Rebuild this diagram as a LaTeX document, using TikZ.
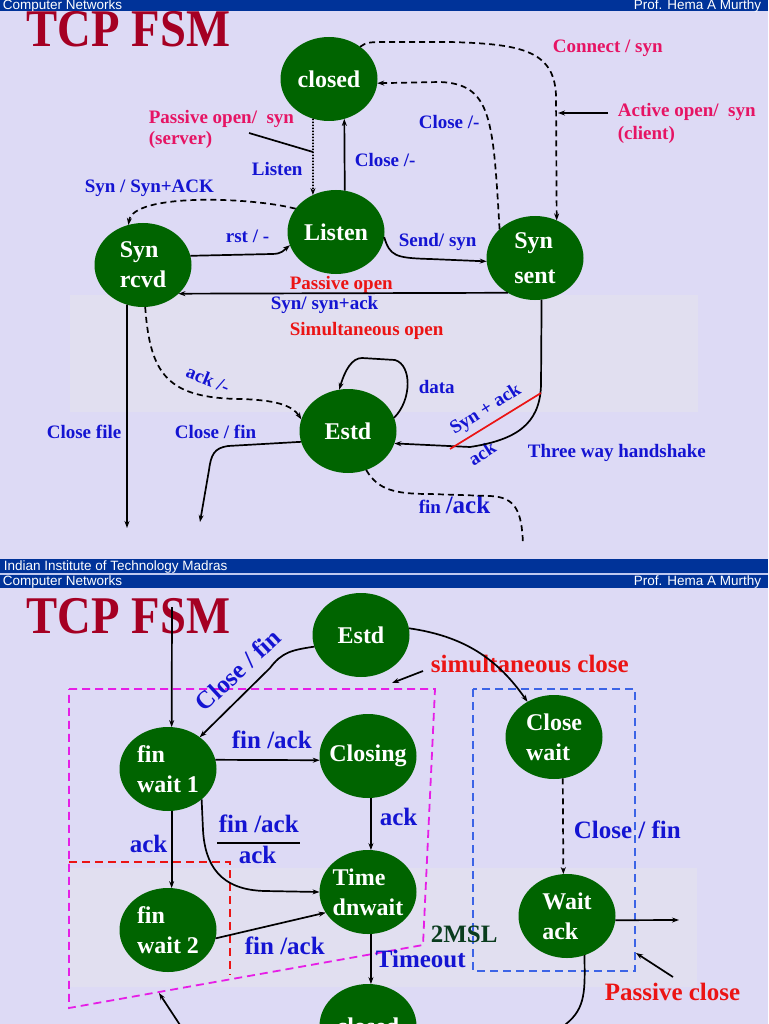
\documentclass[tikz,border=0pt]{standalone}
\usepackage{fontspec}
\setmainfont{Liberation Serif}
\newfontfamily\hdrsans{Liberation Sans}
\usetikzlibrary{shapes.geometric, arrows.meta}

\definecolor{slidebg}{RGB}{221,218,245}
\definecolor{photo}{RGB}{225,223,240}
\definecolor{barblue}{RGB}{0,51,153}
\definecolor{barline}{RGB}{190,200,240}
\definecolor{stategreen}{RGB}{0,100,0}
\definecolor{lblblue}{RGB}{20,20,210}
\definecolor{lblpink}{RGB}{230,20,100}
\definecolor{lblred}{RGB}{235,20,20}
\definecolor{titlered}{RGB}{165,0,35}
\definecolor{boxpink}{RGB}{230,30,230}
\definecolor{boxblue}{RGB}{60,100,230}
\definecolor{mslgreen}{RGB}{10,60,30}

\newcommand\stfont{\fontsize{24}{30}\selectfont\bfseries}
\newcommand\lbfont{\fontsize{19}{21}\selectfont\bfseries}
\newcommand\bgfont{\fontsize{25}{28}\selectfont\bfseries}
\newcommand\ttlfont{\fontsize{53}{53}\selectfont\bfseries}
\newcommand\hdfont{\hdrsans\fontsize{13.5}{13.5}\selectfont}

\begin{document}
\begin{tikzpicture}[
        x=1pt, y=-1pt,
        >={Stealth[length=7pt, width=5pt]},
        line width=1.7pt,
        state/.style={
            ellipse,
            fill=stategreen,
            text=white,
            font=\stfont,
            align=left,
            minimum width=97pt,
            minimum height=84pt,
            inner xsep=-20pt,
            inner ysep=-15pt,
            outer sep=0pt
        },
        lbl/.style={anchor=base west, inner sep=0pt, font=\lbfont, text=lblblue},
        pinklbl/.style={lbl, text=lblpink},
        redlbl/.style={lbl, text=lblred},
        biglbl/.style={lbl, font=\bgfont},
        hdr/.style={anchor=base west, inner sep=0pt, font=\hdfont, text=white},
        dashwire/.style={dash pattern=on 6pt off 4pt},
        boxline/.style={line width=1.8pt, dash pattern=on 8pt off 5pt}
    ]

        \useasboundingbox (0,0) rectangle (768,1024);
        \clip (0,0) rectangle (768,1024);
        \fill[slidebg] (0,0) rectangle (768,1024);
        \fill[photo] (70,295) rectangle (698,412);
        \fill[photo] (69,868) rectangle (697,987);
        \fill[barblue] (0,0) rectangle (768,11);
        \fill[barblue] (0,559) rectangle (768,573);
        \fill[barline] (0,573) rectangle (768,575);
        \fill[barblue] (0,575) rectangle (768,588);

        \node[hdr] (hdra) at (2,9.5) {Computer Networks};
        \node[hdr, anchor=base east] (hdrb) at (762,9.5) {Prof. Hema A Murthy};
        \node[hdr] (ftr) at (3,570) {Indian Institute of Technology Madras};
        \node[hdr] (hdrc) at (2,585) {Computer Networks};
        \node[hdr, anchor=base east] (hdrd) at (762,585) {Prof. Hema A Murthy};

        \node[anchor=base west, inner sep=0pt, text=titlered, font=\ttlfont] (titlea) at (26,47) {\scalebox{0.88}[1]{TCP FSM}};
        \node[anchor=base west, inner sep=0pt, text=titlered, font=\ttlfont] (titleb) at (26,633) {\scalebox{0.88}[1]{TCP FSM}};

        \node[state] (closed) at (329,79) {closed};
        \node[state] (listen) at (336,232) {Listen};
        \node[state] (synr) at (143,265) {Syn\\rcvd};
        \node[state] (syns) at (535,258) {Syn\\[5pt]sent};
        \node[state] (estd) at (348,431) {Estd};

        \node[pinklbl] (conn) at (552,53) {Connect / syn};
        \node[pinklbl] (actva) at (617,117) {Active open/~ syn};
        \node[pinklbl] (actvb) at (617,140) {(client)};
        \node[pinklbl] (pasva) at (148,124) {Passive open/~ syn};
        \node[pinklbl] (pasvb) at (148,145) {(server)};
        \node[lbl] (closeup) at (418,129) {Close /-};
        \node[lbl] (closemid) at (354,167) {Close /-};
        \node[lbl] (lsnlbl) at (251,176) {Listen};
        \node[lbl] (synsyn) at (84,193) {Syn / Syn+ACK};
        \node[lbl] (rst) at (225,243) {rst / -};
        \node[lbl] (send) at (398,247) {Send/ syn};
        \node[redlbl] (pasvopen) at (289,289) {Passive open};
        \node[lbl] (synack) at (270,309) {Syn/ syn+ack};
        \node[redlbl] (simopen) at (289,335) {Simultaneous open};
        \node[lbl, anchor=center, rotate=-22] (ackdash) at (208,379) {ack /-};
        \node[lbl] (clfile) at (46,438) {Close file};
        \node[lbl] (clfina) at (174,438) {Close / fin};
        \node[lbl] (data) at (418,393) {data};
        \node[lbl, anchor=center, rotate=32] (synpack) at (486,410) {Syn + ack};
        \node[lbl, anchor=center, rotate=33] (acklow) at (482,453) {ack};
        \node[lbl] (threeway) at (527,457) {Three way handshake};
        \node[lbl] (finacka) at (418,513) {fin {\fontsize{25}{25}\selectfont/ack}};

        \coordinate (pasvtail) at (249,133);
        \coordinate (pasvtip) at (313,152);
        \coordinate (actvtail) at (608,113);
        \coordinate (actvtip) at (558,113);
        \coordinate (cfile) at (127,528);
        \coordinate (cfin) at (200,522);
        \coordinate (hsa) at (450,449);
        \coordinate (hsb) at (541,393);
        \coordinate (finend) at (523,545);

        \draw[->, dash pattern=on 1.5pt off 1.5pt] (closed.248) -- (listen.122);
        \draw[->] (listen.78) -- (closed.291);
        \draw (pasvtail) -- (pasvtip);
        \draw[->, dashwire] (syns.141) .. controls (493,120) and (492,84) .. (440,82) -- (closed.-5);
        \draw[->, dashwire] (closed.46) .. controls (366,42) and (372,42) .. (385,42) -- (450,42) .. controls (520,44) and (554,50) .. (556,95) -- (syns.60);
        \draw[->] (actvtail) -- (actvtip);
        \draw[->] (listen.-6) .. controls (390,256) and (395,258) .. (430,259) -- (syns.184);
        \draw[->] (synr.11) -- (272,254) .. controls (282,254) and (284,250) .. (listen.196);
        \draw[->] (syns.232) -- (synr.-39);
        \draw[->, dashwire] (listen.150) .. controls (250,197) and (133,193) .. (synr.110);
        \draw[->] (synr.248) -- (cfile);
        \draw[->, dashwire] (synr.-87) .. controls (150,375) and (168,398) .. (240,399) .. controls (275,400) and (292,405) .. (estd.166);
        \draw[->] (estd.193) -- (228,446) .. controls (214,448) and (211,455) .. (209,470) -- (cfin);
        \draw[->] (estd.16) .. controls (412,400) and (412,365) .. (395,360) -- (362,358) .. controls (352,358) and (345,370) .. (estd.102);
        \draw[->] (syns.279) -- (541,385) .. controls (540,425) and (515,440) .. (470,447) -- (estd.-15);
        \draw[lblred] (hsa) -- (hsb);
        \draw[dashwire] (estd.-65) .. controls (378,490) and (395,494) .. (430,494) -- (490,496) .. controls (515,497) and (522,510) .. (finend);

        \draw[boxline, boxpink] (69,689) -- (435,689) -- (423,945) -- (69,1008) -- cycle;
        \draw[boxline, lblred] (69,862) -- (230,862) -- (230,975);
        \draw[boxline, boxblue] (473,689) rectangle (635,971);

        \node[state] (estdb) at (361,635) {Estd};
        \node[state] (finwa) at (168,769) {fin\\wait 1};
        \node[state] (closing) at (368,756) {Closing};
        \node[state] (closew) at (554,737) {Close\\wait};
        \node[state] (timew) at (368,892) {Time\\dnwait};
        \node[state] (finwb) at (168,930) {fin\\wait 2};
        \node[state] (waitack) at (567,916) {Wait\\ack};
        \node[state] (closedb) at (368,1026) {closed};

        \node[biglbl, anchor=center, rotate=43] (clfinb) at (238,670) {Close / fin};
        \node[biglbl, text=lblred] (simclose) at (430,672) {simultaneous close};
        \node[biglbl] (finackb) at (231,748) {fin /ack};
        \node[biglbl] (ackl) at (129,852) {ack};
        \node[biglbl] (fracup) at (218,832) {fin /ack};
        \node[biglbl] (fracdn) at (238,863) {ack};
        \node[biglbl] (ackr) at (379,825) {ack};
        \node[biglbl] (finackc) at (244,954) {fin /ack};
        \node[biglbl, text=mslgreen] (msl) at (430,942) {2MSL};
        \node[biglbl] (timeout) at (375,967) {Timeout};
        \node[biglbl] (clfinc) at (573,838) {Close / fin};
        \node[biglbl, text=lblred] (pasclose) at (604,1000) {Passive close};

        \coordinate (toptail) at (172,607);
        \coordinate (simtail) at (423,671);
        \coordinate (simtip) at (392,683);
        \coordinate (rtip) at (679,920);
        \coordinate (pcltail) at (673,977);
        \coordinate (pcltip) at (636,953);
        \coordinate (bltail) at (182,1028);
        \coordinate (bltip) at (159,993);
        \coordinate (waout) at (558,1032);

        \draw[->] (toptail) -- (finwa.85);
        \draw[->] (estdb.194) .. controls (292,650) and (282,652) .. (270,668) -- (finwa.45);
        \draw[->] (estdb.8) .. controls (463,636) and (497,658) .. (closew.127);
        \draw[->] (simtail) -- (simtip);
        \draw[->] (finwa.11) -- (closing.185);
        \draw[->] (finwa.-85) -- (finwb.85);
        \draw[->] (finwa.-42) -- (203,830) .. controls (205,865) and (220,890) .. (265,891) -- (timew.180);
        \draw (217,843) -- (300,843);
        \draw[->] (closing.-86) -- (timew.86);
        \draw[->] (finwb.-10) -- (timew.206);
        \draw[->] (timew.-86) -- (closedb.86);
        \draw[->, dashwire] (closew.-78) -- (waitack.95);
        \draw[->] (waitack.-5) -- (rtip);
        \draw[->] (pcltail) -- (pcltip);
        \draw (waitack.-66) .. controls (585,990) and (586,1008) .. (566,1024) -- (waout);
        \draw[->] (bltail) -- (bltip);

    \end{tikzpicture}
\end{document}
